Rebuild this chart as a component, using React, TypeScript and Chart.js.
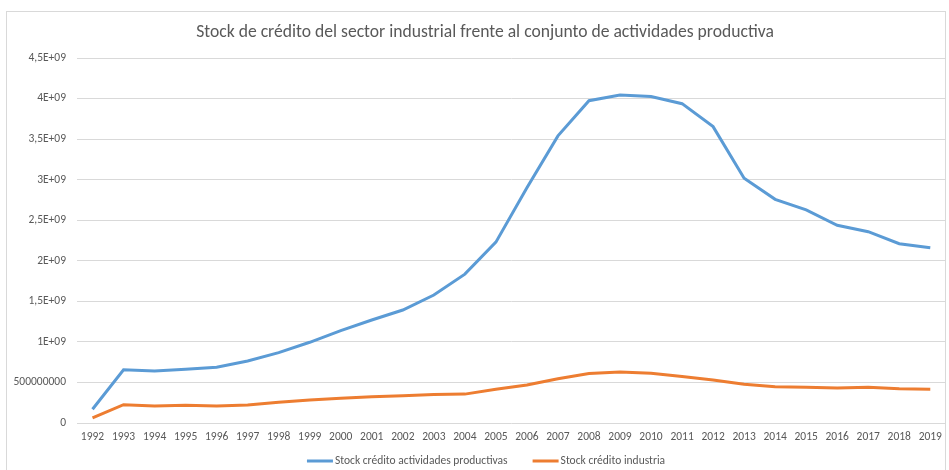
import React, { useEffect, useRef } from "react";
import { Chart, registerables } from "chart.js";

Chart.register(...registerables);

const TITLE = "Stock de crédito del sector industrial frente al conjunto de actividades productiva";

const years = [
  "1992", "1993", "1994", "1995", "1996", "1997", "1998", "1999", "2000", "2001",
  "2002", "2003", "2004", "2005", "2006", "2007", "2008", "2009", "2010", "2011",
  "2012", "2013", "2014", "2015", "2016", "2017", "2018", "2019",
];

const productivas = [
  0.17e9, 0.657e9, 0.641e9, 0.662e9, 0.687e9, 0.764e9, 0.867e9, 0.995e9, 1.138e9, 1.27e9,
  1.393e9, 1.578e9, 1.835e9, 2.23e9, 2.9e9, 3.54e9, 3.974e9, 4.044e9, 4.024e9, 3.937e9,
  3.654e9, 3.017e9, 2.758e9, 2.628e9, 2.437e9, 2.359e9, 2.211e9, 2.162e9,
];

const industria = [
  0.062e9, 0.226e9, 0.21e9, 0.218e9, 0.21e9, 0.222e9, 0.255e9, 0.284e9, 0.304e9, 0.325e9,
  0.337e9, 0.352e9, 0.356e9, 0.415e9, 0.468e9, 0.545e9, 0.61e9, 0.629e9, 0.613e9, 0.573e9,
  0.53e9, 0.477e9, 0.448e9, 0.44e9, 0.432e9, 0.442e9, 0.423e9, 0.415e9,
];

const seriesNames = ["Stock crédito actividades productivas", "Stock crédito industria"];

const yTickValues = [0, 5e8, 1e9, 1.5e9, 2e9, 2.5e9, 3e9, 3.5e9, 4e9, 4.5e9];
const yTickLabels = [
  "0", "500000000", "1E+09", "1,5E+09", "2E+09", "2,5E+09", "3E+09", "3,5E+09", "4E+09", "4,5E+09",
];

const FONT = "Calibri, Carlito, 'Liberation Sans', Arial, sans-serif";
const GREY = "#595959";
const GRID = "#d9d9d9";

const excelDecor = {
  id: "excelDecor",
  afterDraw(chart: any) {
    const ctx = chart.ctx;
    ctx.save();
    // title
    ctx.font = `17.6px ${FONT}`;
    ctx.fillStyle = GREY;
    ctx.textAlign = "center";
    ctx.textBaseline = "middle";
    ctx.fillText(TITLE, 485, 33);
    // legend
    const y = 461;
    const marker = 26;
    const gapText = 2;
    const gapItem = 25;
    ctx.font = `11.5px ${FONT}`;
    ctx.textAlign = "left";
    const items = chart.data.datasets.map((d: any) => ({
      text: d.label,
      color: d.borderColor,
      w: marker + gapText + ctx.measureText(d.label).width,
    }));
    const total = items.reduce((s: number, it: any) => s + it.w, 0) + gapItem * (items.length - 1);
    let x = 486 - total / 2;
    items.forEach((it: any) => {
      ctx.strokeStyle = it.color;
      ctx.lineWidth = 3;
      ctx.beginPath();
      ctx.moveTo(x, y);
      ctx.lineTo(x + marker, y);
      ctx.stroke();
      ctx.fillStyle = GREY;
      ctx.fillText(it.text, x + marker + gapText, y);
      x += it.w + gapItem;
    });
    ctx.restore();
  },
};

export default function App() {
  const ref = useRef<HTMLCanvasElement | null>(null);

  useEffect(() => {
    document.body.style.margin = "0";
    const canvas = ref.current;
    if (!canvas) return;
    const chart = new Chart(canvas, {
      type: "line",
      data: {
        labels: years,
        datasets: [
          {
            label: seriesNames[0],
            data: productivas,
            borderColor: "#5B9BD5",
            backgroundColor: "#5B9BD5",
            borderWidth: 3,
            pointRadius: 0,
            tension: 0,
            fill: false,
          },
          {
            label: seriesNames[1],
            data: industria,
            borderColor: "#ED7D31",
            backgroundColor: "#ED7D31",
            borderWidth: 3,
            pointRadius: 0,
            tension: 0,
            fill: false,
          },
        ],
      },
      plugins: [excelDecor],
      options: {
        animation: false,
        responsive: false,
        maintainAspectRatio: false,
        layout: { padding: { left: 8, right: 3, top: 58, bottom: 25 } },
        plugins: {
          title: { display: false },
          legend: { display: false },
          tooltip: { enabled: false },
        },
        scales: {
          x: {
            offset: true,
            grid: { display: false, drawTicks: false },
            border: { display: false },
            ticks: {
              color: GREY,
              font: { family: FONT, size: 11.5 },
              padding: 7,
              maxRotation: 0,
              autoSkip: false,
            },
            afterFit: (s: any) => {
              s.height = 22;
            },
          },
          y: {
            min: 0,
            max: 4.5e9,
            grid: { color: GRID, lineWidth: 1, drawTicks: false },
            border: { display: false },
            afterBuildTicks: (s: any) => {
              s.ticks = yTickValues.map((v) => ({ value: v }));
            },
            ticks: {
              color: GREY,
              font: { family: FONT, size: 11.5 },
              padding: 11,
              callback: (v: any) => {
                const i = yTickValues.indexOf(Number(v));
                return i >= 0 ? yTickLabels[i] : "";
              },
            },
            afterFit: (s: any) => {
              s.width = 69;
            },
          },
        },
      },
    });
    return () => chart.destroy();
  }, []);

  return (
    <div style={{ position: "relative", width: 949, height: 470, overflow: "hidden", background: "#fff" }}>
      <div
        style={{
          position: "absolute",
          left: 6,
          top: 11,
          width: 940,
          height: 470,
          border: "1px solid #d9d9d9",
          boxSizing: "border-box",
        }}
      />
      <canvas ref={ref} width={949} height={470} style={{ position: "absolute", left: 0, top: 0, width: 949, height: 470 }} />
    </div>
  );
}
